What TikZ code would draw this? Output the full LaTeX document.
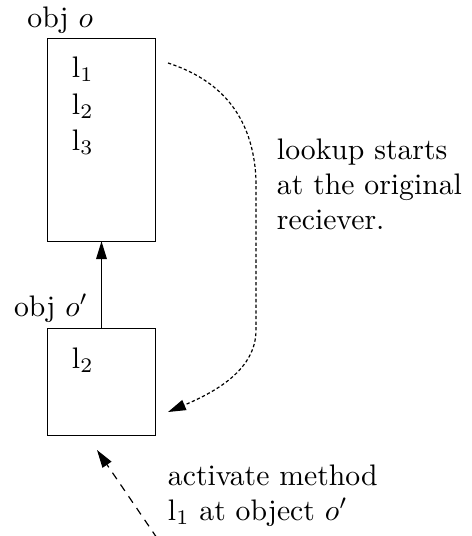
\documentclass[tikz,border=0pt]{standalone}
\usepackage{amsmath,amssymb}
\usetikzlibrary{arrows.meta}

\begin{document}
\begin{tikzpicture}[x=0.3367pt, y=-0.3367pt, every node/.style={inner sep=0pt, outer sep=0pt, anchor=base west},
	objbox/.style={draw, minimum width=36.5pt, anchor=center},
	tip/.style={-{Triangle[length=6pt, width=3.6pt]}}]
	\useasboundingbox (0,0) rectangle (472,536);
	% the two objects
	\node[objbox, minimum height=68.2pt] (objo) at (101.5,140) {};
	\node[objbox, minimum height=36.2pt] (objop) at (101.5,382) {};
	\node[anchor=base east] (nameo) at (93,27) {obj $o$};
	\node[anchor=base east] (nameop) at (88,316) {obj $o'$};
	\node (lone) at (72,77) {l$_1$};
	\node (ltwo) at (72,114) {l$_2$};
	\node (lthree) at (72,150) {l$_3$};
	\node (ltwop) at (72,368) {l$_2$};
	\draw[tip] (objop.north) -- (objo.south);
	% lookup path
	\coordinate (lookstart) at (168,63);
	\coordinate (lookend) at (168,412);
	\draw[tip, dash pattern=on 1.1pt off 0.8pt] (lookstart) .. controls (208,76) and (253,105) .. (256,180)
		-- (256,330) .. controls (256,370) and (215,392) .. (lookend);
	\node (lookone) at (277,159) {lookup starts};
	\node (looktwo) at (277,194) {at the original};
	\node (lookthree) at (277,229) {reciever.};
	% call
	\coordinate (callfrom) at (157,538);
	\coordinate (callto) at (97,450);
	\draw[tip, dash pattern=on 2.6pt off 2.2pt] (callfrom) -- (callto);
	\node (callone) at (168,485) {activate method};
	\node (calltwo) at (168,520) {l$_1$ at object $o'$};
\end{tikzpicture}
\end{document}
